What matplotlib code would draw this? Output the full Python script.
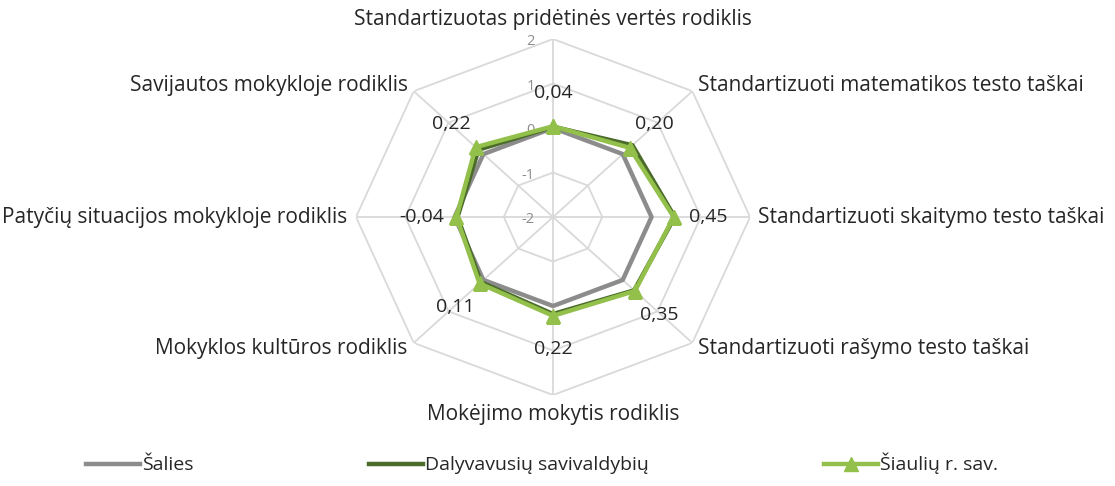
import numpy as np
import matplotlib
matplotlib.use('Agg')
import matplotlib.pyplot as plt

plt.rcParams['font.family'] = ['Open Sans', 'DejaVu Sans']
plt.rcParams['axes.unicode_minus'] = False

categories = ['Standartizuotas pridėtinės vertės rodiklis',
              'Standartizuoti matematikos testo taškai',
              'Standartizuoti skaitymo testo taškai',
              'Standartizuoti rašymo testo taškai',
              'Mokėjimo mokytis rodiklis',
              'Mokyklos kultūros rodiklis',
              'Patyčių situacijos mokykloje rodiklis',
              'Savijautos mokykloje rodiklis']

salies = [0, 0, 0, 0, 0, 0, 0, 0]
dalyvavusiu = [0.03, 0.28, 0.47, 0.33, 0.18, 0.07, -0.06, 0.14]
siauliu = [0.04, 0.20, 0.45, 0.35, 0.22, 0.11, -0.04, 0.22]

series_names = ['Šalies', 'Dalyvavusių savivaldybių', 'Šiaulių r. sav.']
r_ticks = [-2, -1, 0, 1, 2]

n = len(categories)
theta = np.linspace(0, 2 * np.pi, n, endpoint=False)
theta_c = np.append(theta, theta[0])


def closed(vals):
    return np.append(vals, vals[0])


fig = plt.figure(figsize=(11.15, 4.86), dpi=100)
ax = fig.add_axes([0.3193, 0.1872, 0.3534, 0.7325], projection='polar')
ax.set_aspect('auto')
ax.set_theta_offset(np.pi / 2)
ax.set_theta_direction(-1)
ax.set_ylim(-2, 2)
ax.grid(False)
ax.spines['polar'].set_visible(False)
ax.set_xticks([])
ax.set_yticks([])
ax.patch.set_visible(False)

grid_col = '#d9d9d9'
for lev in r_ticks[1:]:
    ax.plot(theta_c, [lev] * (n + 1), color=grid_col, lw=1.3, zorder=1)
for t in theta:
    ax.plot([t, t], [-2, 2], color=grid_col, lw=1.3, zorder=1)

# radial tick labels to the left of the top spoke
for lev in r_ticks:
    ax.annotate(str(lev), xy=(0, lev), xytext=(-13, -2), textcoords='offset points',
                ha='right', va='center', fontsize=10.5, color='#8c8c8c')

ax.plot(theta_c, closed(salies), color='#8c8c8c', lw=3.2, zorder=3, label=series_names[0])
ax.plot(theta_c, closed(dalyvavusiu), color='#4a6b2a', lw=3.2, zorder=4, label=series_names[1])
ax.plot(theta_c, closed(siauliu), color='#92c04a', lw=3.2, zorder=5, marker='^',
        markersize=10, label=series_names[2])

# data labels for Šiaulių r. sav.
for t, v in zip(theta, siauliu):
    dx, dy = np.sin(t), np.cos(t)
    ax.annotate(f'{v:.2f}'.replace('.', ','), xy=(t, v),
                xytext=(25 * dx, 24 * dy), textcoords='offset points',
                ha='center', va='center', fontsize=14, color='#262626', zorder=6)

# category labels
for t, name in zip(theta, categories):
    dx, dy = np.sin(t), np.cos(t)
    if dx > 0.1:
        ha, d = 'left', 6
    elif dx < -0.1:
        ha, d = 'right', 6
    else:
        ha, d = 'center', 14
    ax.annotate(name, xy=(t, 2), xytext=(d * dx, d * dy), textcoords='offset points',
                ha=ha, va='center', fontsize=15, color='#262626', annotation_clip=False)

fig.legend(loc='lower center', bbox_to_anchor=(0.486, -0.012), ncol=3, frameon=False,
           fontsize=14, handlelength=2.8, handletextpad=0.1, columnspacing=9.0,
           labelcolor='#262626')

fig.savefig('out.png', dpi=100)
